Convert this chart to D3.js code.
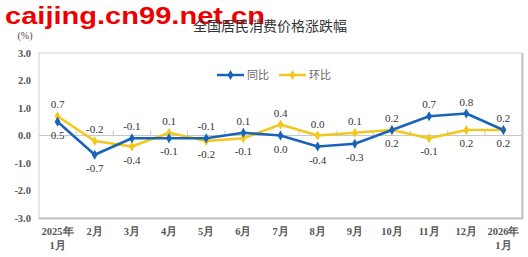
<!DOCTYPE html>
<html>
<head>
<meta charset="utf-8">
<script src="https://cdn.jsdelivr.net/npm/d3@7"></script>
<style>
  body { margin: 0; background: #fff; }
  svg { display: block; }
</style>
</head>
<body>
<svg width="528" height="257"></svg>
<script>
// 月份（x轴两行标签）
const months = ["2025年|1月", "2月", "3月", "4月", "5月", "6月", "7月", "8月", "9月", "10月", "11月", "12月", "2026年|1月"];
// 同比
const yoy = [0.5, -0.7, -0.1, -0.1, -0.1, 0.1, 0.0, -0.4, -0.3, 0.2, 0.7, 0.8, 0.2];
// 环比
const mom = [0.7, -0.2, -0.4, 0.1, -0.2, -0.1, 0.4, 0.0, 0.1, 0.2, -0.1, 0.2, 0.2];
const yTicks = [3.0, 2.0, 1.0, 0.0, -1.0, -2.0, -3.0];

const svg = d3.select("svg");
const margin = {top: 53, right: 6, bottom: 39, left: 39};
const width = 528 - margin.left - margin.right,
      height = 257 - margin.top - margin.bottom;

const blue = "#1a64b8", yellow = "#f2c81e";
const serif = "'Liberation Serif', 'DejaVu Serif', serif";
const cjk = "'Noto Sans CJK SC', sans-serif";

// 水印
svg.append("text")
  .attr("x", 5).attr("y", 24)
  .attr("textLength", 260).attr("lengthAdjust", "spacingAndGlyphs")
  .style("font-family", "'Liberation Sans', Arial, sans-serif")
  .style("font-weight", "bold").style("font-size", "23px")
  .attr("fill", "#ee0000")
  .text("caijing.cn99.net.cn");

// 标题
svg.append("text")
  .attr("x", 270).attr("y", 31)
  .attr("text-anchor", "middle")
  .style("font-family", cjk).style("font-size", "14px")
  .attr("fill", "#333")
  .text("全国居民消费价格涨跌幅");

svg.append("text")
  .attr("x", 25).attr("y", 39)
  .attr("text-anchor", "middle")
  .style("font-family", serif).style("font-size", "10px")
  .attr("fill", "#444")
  .text("(%)");

const g = svg.append("g").attr("transform", "translate(" + margin.left + "," + margin.top + ")");

const x = d3.scaleBand().domain(months).range([0, width]);
const y = d3.scaleLinear().domain([-3, 3]).range([height, 0]);
const cx = function(i) { return x(months[i]) + x.bandwidth() / 2; };

// 边框
g.append("rect")
  .attr("x", 0).attr("y", 0).attr("width", width).attr("height", height)
  .attr("fill", "none").attr("stroke", "#cfcfcf").attr("stroke-width", 1);
g.append("path")
  .attr("d", "M0," + (height + 0.5) + "H" + (width + 0.5) + "V0")
  .attr("fill", "none").attr("stroke", "#c4c4c4").attr("stroke-width", 2);

// y轴刻度标签
g.selectAll(".ylab").data(yTicks).enter().append("text")
  .attr("x", -8).attr("y", d => y(d)).attr("dy", "0.35em")
  .attr("text-anchor", "end")
  .style("font-family", serif).style("font-size", "10.5px").style("font-weight", "bold")
  .attr("fill", "#555")
  .text(d => d.toFixed(1));

// 零线及分隔刻度
g.append("line")
  .attr("x1", 0).attr("x2", width).attr("y1", y(0)).attr("y2", y(0))
  .attr("stroke", "#c8c8c8");
g.selectAll(".tk").data(months.slice(1)).enter().append("line")
  .attr("x1", d => x(d)).attr("x2", d => x(d))
  .attr("y1", y(0) - 5).attr("y2", y(0))
  .attr("stroke", "#c8c8c8");

// x轴标签
const xl = g.selectAll(".xlab").data(months).enter().append("text")
  .attr("x", d => x(d) + x.bandwidth() / 2)
  .attr("y", height + 17)
  .attr("text-anchor", "middle")
  .style("font-family", serif).style("font-size", "10.5px").style("font-weight", "bold")
  .attr("fill", "#555");
xl.each(function(d) {
  const parts = d.split("|");
  const t = d3.select(this);
  parts.forEach(function(p, k) {
    t.append("tspan").attr("x", t.attr("x")).attr("dy", k === 0 ? 0 : 14).text(p);
  });
});

// 折线
const line = d3.line().x((d, i) => cx(i)).y(d => y(d));
[[mom, yellow], [yoy, blue]].forEach(function(s) {
  g.append("path").datum(s[0])
    .attr("fill", "none").attr("stroke", s[1]).attr("stroke-width", 2.5)
    .attr("stroke-linejoin", "round")
    .attr("d", line);
  g.selectAll(null).data(s[0]).enter().append("path")
    .attr("transform", (d, i) => "translate(" + cx(i) + "," + y(d) + ")")
    .attr("d", d3.symbol(d3.symbolDiamond, 30))
    .attr("fill", s[1]);
});

// 数据标签：较大者在上，较小者在下
months.forEach(function(m, i) {
  const blueUp = yoy[i] > mom[i] || (yoy[i] === mom[i]);
  const items = [[yoy[i], blueUp], [mom[i], !blueUp]];
  items.forEach(function(it) {
    g.append("text")
      .attr("x", cx(i))
      .attr("y", it[1] ? y(it[0]) - 8 : y(it[0]) + 17)
      .attr("text-anchor", "middle")
      .style("font-family", serif).style("font-size", "11px")
      .attr("fill", "#333")
      .text(it[0].toFixed(1));
  });
});

// 图例
const legend = [["同比", blue, 217], ["环比", yellow, 279]];
legend.forEach(function(l) {
  const lg = svg.append("g").attr("transform", "translate(" + l[2] + ",75)");
  lg.append("line").attr("x1", 0).attr("x2", 27).attr("stroke", l[1]).attr("stroke-width", 2.5);
  lg.append("path").attr("transform", "translate(13.5,0)")
    .attr("d", d3.symbol(d3.symbolDiamond, 30)).attr("fill", l[1]);
  lg.append("text").attr("x", 30).attr("dy", "0.35em")
    .style("font-family", cjk).style("font-size", "11px")
    .attr("fill", "#666").text(l[0]);
});
</script>
</body>
</html>
